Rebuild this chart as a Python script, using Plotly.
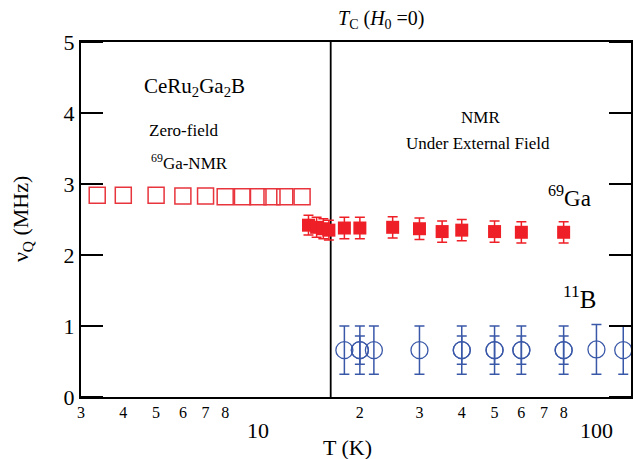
import numpy as np
import plotly.graph_objects as go

# ---- data ----
zf_T = [3.35, 4.0, 5.0, 6.0, 7.0, 8.0, 9.0, 10.0, 11.0, 12.0, 13.5]
zf_nu = [2.84, 2.84, 2.84, 2.83, 2.83, 2.82, 2.82, 2.82, 2.82, 2.82, 2.82]

ga_T = [14.1, 14.9, 15.6, 16.2, 18, 20, 25, 30, 35, 40, 50, 60, 80]
ga_nu = [2.42, 2.39, 2.37, 2.35, 2.38, 2.38, 2.39, 2.37, 2.33, 2.35, 2.33, 2.32, 2.32]
ga_err = [0.14, 0.14, 0.14, 0.14, 0.15, 0.15, 0.15, 0.15, 0.15, 0.15, 0.15, 0.15, 0.15]

b_T = [18, 20, 22, 30, 40, 50, 60, 80, 100, 120]
b_nu = [0.66, 0.66, 0.66, 0.66, 0.66, 0.66, 0.66, 0.66, 0.67, 0.66]
b_err = [0.34, 0.34, 0.34, 0.34, 0.34, 0.34, 0.34, 0.34, 0.35, 0.34]

b2_T = [20, 40, 50, 60, 80]
b2_nu = [0.66, 0.66, 0.66, 0.66, 0.66]
b2_err = [0.2, 0.2, 0.2, 0.2, 0.2]

tc = 16.4
tc_line_y = [0, 5]

x_min, x_max = 3.0, 126.5
major_ticks = [10, 100]
major_text = ["10", "100"]
small_ticks = [3, 4, 5, 6, 7, 8, 9, 20, 30, 40, 50, 60, 70, 80, 90, 110, 120]
small_text = ["3", "4", "5", "6", "7", "8", "", "2", "3", "4", "5", "6", "7", "8", "", "", ""]
y_ticks = [0, 1, 2, 3, 4, 5]

RED = "#ee1f26"
RED_OPEN = "#e8343c"
BLUE = "#3a58a8"
FONT = "Liberation Serif"

fig = go.Figure()

fig.add_trace(go.Scatter(
    x=[tc, tc], y=tc_line_y, mode="lines",
    line=dict(color="black", width=1.8), showlegend=False, hoverinfo="skip"))

fig.add_trace(go.Scatter(
    x=zf_T, y=zf_nu, mode="markers",
    marker=dict(symbol="square-open", size=16, color=RED_OPEN, line=dict(width=1.5)),
    showlegend=False))

fig.add_trace(go.Scatter(
    x=ga_T, y=ga_nu, mode="markers",
    marker=dict(symbol="square", size=13, color=RED),
    error_y=dict(type="data", array=ga_err, color=RED, thickness=1.5, width=5),
    showlegend=False))

fig.add_trace(go.Scatter(
    x=b_T, y=b_nu, mode="markers",
    marker=dict(symbol="circle-open", size=17, color=BLUE, line=dict(width=1.3)),
    error_y=dict(type="data", array=b_err, color=BLUE, thickness=1.5, width=5),
    showlegend=False))

fig.add_trace(go.Scatter(
    x=b2_T, y=b2_nu, mode="markers",
    marker=dict(symbol="circle-open", size=17, color=BLUE, line=dict(width=1.3)),
    error_y=dict(type="data", array=b2_err, color=BLUE, thickness=1.5, width=5),
    showlegend=False))

xrange = [np.log10(x_min), np.log10(x_max)]

fig.update_layout(
    width=633, height=459,
    margin=dict(l=81, r=2, t=42, b=62),
    paper_bgcolor="white", plot_bgcolor="white",
    font=dict(family=FONT, color="black"),
    xaxis=dict(
        type="log", range=xrange,
        showgrid=False, zeroline=False, automargin=False,
        tickmode="array", tickvals=small_ticks, ticktext=small_text,
        ticks="", tickfont=dict(family=FONT, size=16, color="black"),
        showline=True, linewidth=2, linecolor="black", mirror=True,
    ),
    yaxis=dict(
        range=[0, 5], tickmode="array", tickvals=y_ticks, automargin=False,
        ticks="", tickfont=dict(family=FONT, size=22, color="black"),
        showline=True, linewidth=2, linecolor="black", mirror=True,
        showgrid=False, zeroline=False,
    ),
)

# tick marks drawn inward from every axis edge at the tick values
TICK = dict(color="black", width=2)

def x_ticks(vals, length):
    for v in vals:
        for anchor, sgn in ((0, 1), (1, -1)):
            fig.add_shape(type="line", xref="x", yref="paper",
                          x0=np.log10(v), x1=np.log10(v),
                          ysizemode="pixel", yanchor=anchor, y0=0, y1=sgn * length,
                          line=TICK, layer="above")

x_ticks(small_ticks, 11)
x_ticks(major_ticks, 21)

for v in y_ticks:
    for anchor, sgn in ((0, 1), (1, -1)):
        fig.add_shape(type="line", xref="paper", yref="y",
                      y0=v, y1=v,
                      xsizemode="pixel", xanchor=anchor, x0=0, x1=sgn * 22,
                      line=TICK, layer="above")

# large labels for the decade ticks, placed on the x data scale below the axis
for v, t in zip(major_ticks, major_text):
    fig.add_annotation(text=t, x=np.log10(v), y=-0.094, xref="x", yref="paper",
                       showarrow=False, xanchor="center", yanchor="middle",
                       font=dict(family=FONT, size=22, color="black"))

def ann(text, x, y, size, angle=0):
    fig.add_annotation(text=text, x=x, y=y, xref="paper", yref="paper",
                       showarrow=False, xanchor="center", yanchor="middle",
                       textangle=angle,
                       font=dict(family=FONT, size=size, color="black"))

ann("ν<sub>Q</sub> (MHz)", -0.108, 0.5, 22, -90)
ann("T (K)", 0.484, -0.141, 22)
ann("<i>T</i><sub>C</sub> (<i>H</i><sub>0</sub> =0)", 0.547, 1.062, 20)
ann("CeRu<sub>2</sub>Ga<sub>2</sub>B", 0.2065, 0.873, 21)
ann("Zero-field", 0.1866, 0.752, 17)
ann("<sup>69</sup>Ga-NMR", 0.197, 0.662, 17)
ann("NMR", 0.726, 0.786, 17)
ann("Under External Field", 0.721, 0.715, 17)
ann("<sup>69</sup>Ga", 0.889, 0.566, 23)
ann("<sup>11</sup>B", 0.908, 0.282, 25)

fig.write_html("out.html", config={"displayModeBar": False},
               post_script="document.body.style.margin='0';")
